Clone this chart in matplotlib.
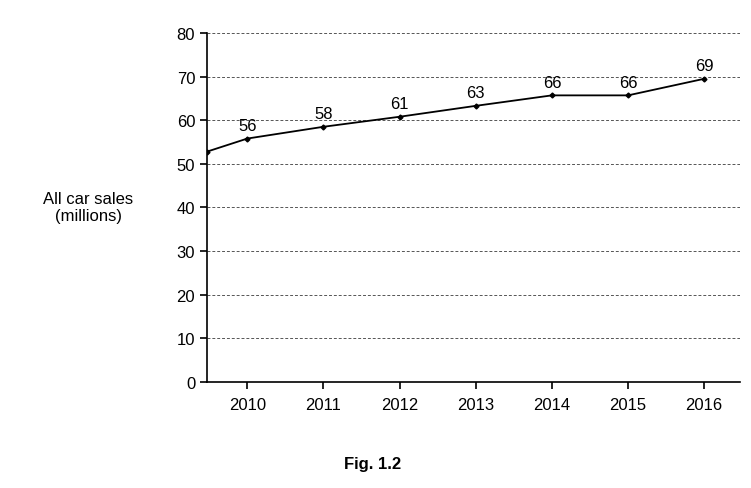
import matplotlib
matplotlib.use("Agg")
import matplotlib.pyplot as plt

years = [2009.47, 2010, 2011, 2012, 2013, 2014, 2015, 2016]
sales = [52.8, 55.8, 58.5, 60.8, 63.3, 65.7, 65.7, 69.5]
label_years = [2010, 2011, 2012, 2013, 2014, 2015, 2016]
label_vals = [55.8, 58.5, 60.8, 63.3, 65.7, 65.7, 69.5]
label_text = ["56", "58", "61", "63", "66", "66", "69"]
yticks = [0, 10, 20, 30, 40, 50, 60, 70, 80]

plt.rcParams['font.family'] = ['Liberation Sans', 'DejaVu Sans']
fig = plt.figure(figsize=(7.51, 4.89), dpi=100)
ax = fig.add_axes([0.2756, 0.2168, 0.7097, 0.7137])
ax.plot(years, sales, color='black', lw=1.3, marker='D', markersize=2.5, zorder=3)
for x, y, t in zip(label_years, label_vals, label_text):
    ax.annotate(t, (x, y), xytext=(0, 4), textcoords='offset points', ha='center', va='bottom', fontsize=12)
ax.set_xlim(2009.47, 2016.47)
ax.set_ylim(0, 80)
ax.set_yticks(yticks)
ax.set_xticks(label_years)
for y in yticks[1:]:
    ax.axhline(y, color='#555555', ls=(0, (3, 2)), lw=0.7, zorder=1)
for s in ['top', 'right']:
    ax.spines[s].set_visible(False)
ax.spines['left'].set_linewidth(1.2)
ax.spines['bottom'].set_linewidth(1.2)
ax.tick_params(labelsize=12, width=1.2, length=5)
ax.tick_params(axis='x', pad=6)
fig.text(88/751, 1 - 208/489, "All car sales\n(millions)", ha='center', va='center', fontsize=12)
fig.text(373/751, 1 - 465/489, "Fig. 1.2", ha='center', va='center', fontsize=12, fontweight='bold')
fig.savefig("out.png", dpi=100)
